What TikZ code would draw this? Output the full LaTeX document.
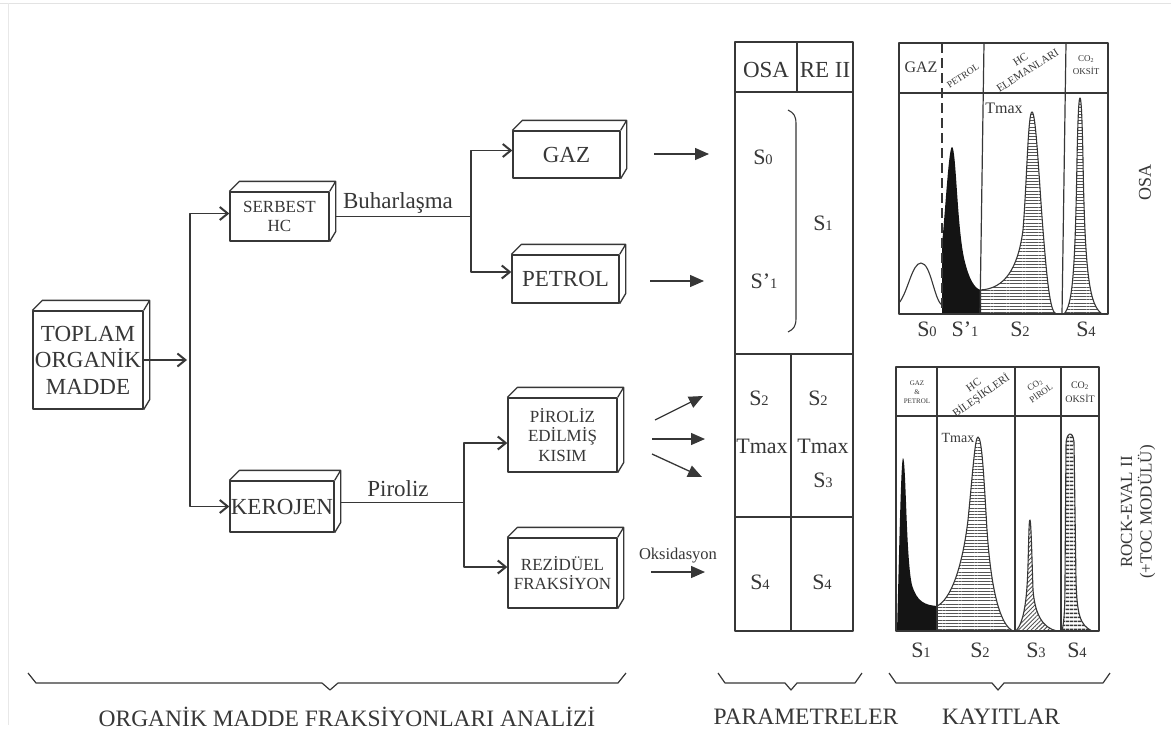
\documentclass[tikz,border=0pt]{standalone}
\usepackage{fontspec}
\setmainfont{Liberation Serif}
\usepackage{graphicx}
\usetikzlibrary{arrows.meta,patterns.meta}
\definecolor{ink}{RGB}{55,55,55}
\definecolor{blk}{RGB}{20,20,20}
\definecolor{hatchc}{RGB}{85,85,85}
\newcommand\fsz[2]{\fontsize{#1}{#2}\selectfont}
\newcommand\Sx[1]{S\scalebox{0.66}{#1}}
\newcommand\cubeface[1]{\draw[boxline] (#1.north west) -- ++(10pt,10pt) -- ([shift={(6pt,10pt)}]#1.north east) -- (#1.north east) ([shift={(6pt,10pt)}]#1.north east) -- ([shift={(6pt,10pt)}]#1.south east) -- (#1.south east);}
\begin{document}
\begin{tikzpicture}[x=1pt,y=-1pt,line join=round,
  every node/.style={text=ink,inner sep=0pt},
  boxline/.style={draw=ink,line width=1.3pt},
  box3d/.style={boxline,align=center},
  openarrow/.style={draw=ink,line width=1.3pt,-{Straight Barb[length=8pt,width=13pt,line width=2pt]}},
  fillarrow/.style={draw=ink,line width=1.3pt,-{Triangle[length=14pt,width=12pt]}},
  frame/.style={draw=ink,line width=1.2pt},
  curve/.style={draw=ink,line width=1.1pt},
  lbl/.style={font=\fsz{22}{24}},
  hatchh/.style={pattern={Lines[distance=3.2pt,line width=1pt]},pattern color=hatchc},
]
\useasboundingbox (0,0) rectangle (1171,732);
\fill[white] (0,0) rectangle (1171,732);
\draw[gray!22,line width=1pt] (0,3) -- (1171,3);
\draw[gray!18,line width=1pt] (8,3) -- (8,725);

% ---------- boxes ----------
\node[box3d,minimum width=110pt,minimum height=98pt,font=\fsz{23}{26.5}] (toplam) at (88,360) {TOPLAM\\ORGANİK\\MADDE};
\cubeface{toplam}
\node[box3d,minimum width=99pt,minimum height=49pt,font=\fsz{17}{19}] (serbest) at (279.5,216.5) {SERBEST\\HC};
\cubeface{serbest}
\node[box3d,minimum width=104pt,minimum height=51pt,font=\fsz{23}{25}] (kerojen) at (282,506.5) {KEROJEN};
\cubeface{kerojen}
\node[box3d,minimum width=107pt,minimum height=47pt,font=\fsz{23}{25}] (gaz) at (566.5,154.5) {GAZ};
\cubeface{gaz}
\node[box3d,minimum width=107pt,minimum height=48pt,font=\fsz{23}{25}] (petrol) at (565.5,279) {PETROL};
\cubeface{petrol}
\node[box3d,minimum width=109pt,minimum height=74pt,font=\fsz{17}{19.5}] (piroliz) at (562.5,435) {PİROLİZ\\EDİLMİŞ\\KISIM};
\cubeface{piroliz}
\node[box3d,minimum width=109pt,minimum height=70pt,font=\fsz{17}{18.5}] (rezid) at (562.5,573) {REZİDÜEL\\FRAKSİYON};
\cubeface{rezid}

% ---------- connectors ----------
\coordinate (j1) at (190,360);
\draw[openarrow] (toplam.east) -- ([xshift=-3pt]j1);
\draw[openarrow] (j1) |- ([yshift=3pt]serbest.west);
\draw[openarrow] (j1) |- (kerojen.west);
\coordinate (j2) at (471,216.5);
\draw[boxline] ([xshift=6pt]serbest.east) -- (j2);
\draw[openarrow] (j2) |- ([yshift=4pt]gaz.west);
\draw[openarrow] (j2) |- ([yshift=7pt]petrol.west);
\node[font=\fsz{23}{25}] (buhar) at (398,203) {Buharlaşma};
\coordinate (j3) at (464,502.5);
\draw[boxline] ([shift={(6pt,4pt)}]kerojen.east) -- (j3);
\draw[openarrow] (j3) |- ([yshift=-8pt]piroliz.west);
\draw[openarrow] (j3) |- ([yshift=6pt]rezid.west);
\node[font=\fsz{23}{25}] (pirlbl) at (398,489) {Piroliz};

\coordinate (g1) at (654,154); \coordinate (g2) at (709,154);
\draw[fillarrow] (g1) -- (g2);
\coordinate (p1) at (650,281); \coordinate (p2) at (704,281);
\draw[fillarrow] (p1) -- (p2);
\coordinate (a1) at (655,420); \coordinate (a2) at (703,396);
\draw[fillarrow] (a1) -- (a2);
\coordinate (b1) at (652,439); \coordinate (b2) at (705,439);
\draw[fillarrow] (b1) -- (b2);
\coordinate (c1) at (652,454); \coordinate (c2) at (702,477);
\draw[fillarrow] (c1) -- (c2);
\coordinate (o1) at (651,572); \coordinate (o2) at (705,572);
\draw[fillarrow] (o1) -- (o2);
\node[font=\fsz{16.5}{18}] (oksid) at (678,556) {Oksidasyon};

% ---------- parameter table ----------
\draw[frame] (735,42) rectangle (853,631);
\draw[frame] (735,92) -- (853,92);
\draw[frame] (797,42) -- (797,92);
\draw[frame] (735,354) -- (853,354);
\draw[frame] (791,354) -- (791,631);
\draw[frame] (735,517) -- (853,517);
\node[font=\fsz{23}{25}] (tosa) at (766,70) {OSA};
\node[font=\fsz{23}{25}] (tre) at (825,70) {RE II};
\node[lbl] (ts0) at (763,157) {\Sx{0}};
\node[lbl] (ts1p) at (764,281) {S’\scalebox{0.66}{1}};
\node[lbl] (ts1) at (823,223) {\Sx{1}};
\draw[curve] (788,110) .. controls (794,113) and (796,116) .. (796,124) -- (796,318) .. controls (796,326) and (794,329) .. (788,332);
\node[lbl] (ts2a) at (759,398) {\Sx{2}};
\node[lbl] (ttma) at (762,446) {Tmax};
\node[lbl] (ts2b) at (818,398) {\Sx{2}};
\node[lbl] (ttmb) at (823,446) {Tmax};
\node[lbl] (ts3) at (823,480) {\Sx{3}};
\node[lbl] (ts4a) at (760,582) {\Sx{4}};
\node[lbl] (ts4b) at (822,582) {\Sx{4}};

% ---------- OSA record ----------
\path[hatchh] (980,290) .. controls (1005,289) and (1018,268) .. (1023,230) .. controls (1027,180) and (1028,112) .. (1032,112) .. controls (1036,112) and (1039,180) .. (1043,230) .. controls (1047,280) and (1050,312) .. (1056,314) -- (980,314) -- cycle;
\draw[curve] (980,290) .. controls (1005,289) and (1018,268) .. (1023,230) .. controls (1027,180) and (1028,112) .. (1032,112) .. controls (1036,112) and (1039,180) .. (1043,230) .. controls (1047,280) and (1050,312) .. (1056,314);
\fill[blk] (942,314) -- (942,245) .. controls (946,200) and (949,147) .. (952,147) .. controls (956,147) and (957,225) .. (964,258) .. controls (969,280) and (975,289) .. (981,290) -- (981,314) -- cycle;
\draw[curve] (899,303) .. controls (908,292) and (912,263) .. (921,263) .. controls (931,263) and (934,300) .. (942,305);
\path[hatchh] (1064,314) .. controls (1072,305) and (1075,280) .. (1077,160) .. controls (1078,110) and (1079,98) .. (1080,98) .. controls (1081,98) and (1082,110) .. (1083,160) .. controls (1085,280) and (1090,305) .. (1102,314) -- cycle;
\draw[curve] (1064,314) .. controls (1072,305) and (1075,280) .. (1077,160) .. controls (1078,110) and (1079,98) .. (1080,98) .. controls (1081,98) and (1082,110) .. (1083,160) .. controls (1085,280) and (1090,305) .. (1102,314);
\draw[frame] (899,43) rectangle (1108,314);
\draw[frame] (899,93) -- (1108,93);
\draw[frame,dash pattern=on 10pt off 5pt] (942,43) -- (942,314);
\draw[frame] (984,43) -- (980,314);
\draw[frame] (1066,43) -- (1062,314);
\node[font=\fsz{16}{18}] (hgaz) at (921,67) {GAZ};
\node[rotate=33,font=\fsz{9.5}{11}] (hpet) at (963,76) {PETROL};
\node[rotate=33,align=center,font=\fsz{11}{13}] (hhc) at (1024,65) {HC\\ELEMANLARI};
\node[align=center,font=\fsz{9}{13}] (hco) at (1086,65) {CO\textsubscript{2}\\OKSİT};
\node[font=\fsz{16}{18}] (tmax1) at (1004,108) {Tmax};
\node[lbl] (l0) at (927,329) {\Sx{0}};
\node[lbl] (l1) at (965,329) {S’\scalebox{0.66}{1}};
\node[lbl] (l2) at (1020,329) {\Sx{2}};
\node[lbl] (l4) at (1086,329) {\Sx{4}};
\node[rotate=90,font=\fsz{18}{20}] (osa) at (1145,182) {OSA};

% ---------- ROCK-EVAL record ----------
\fill[blk] (897,631) .. controls (899,560) and (901,458) .. (903,458) .. controls (906,458) and (906,560) .. (912,585) .. controls (917,602) and (925,605) .. (937,606) -- (937,631) -- cycle;
\path[hatchh] (937,606) .. controls (950,600) and (962,570) .. (968,520) .. controls (973,470) and (975,437) .. (978,437) .. controls (982,437) and (984,480) .. (987,530) .. controls (991,590) and (1000,625) .. (1013,631) -- (937,631) -- cycle;
\draw[curve] (937,606) .. controls (950,600) and (962,570) .. (968,520) .. controls (973,470) and (975,437) .. (978,437) .. controls (982,437) and (984,480) .. (987,530) .. controls (991,590) and (1000,625) .. (1013,631);
\path[pattern={Lines[angle=45,distance=3pt,line width=0.9pt]},pattern color=hatchc] (1016,631) .. controls (1024,622) and (1027,600) .. (1028,565) .. controls (1029,530) and (1029,520) .. (1030,520) .. controls (1031,520) and (1032,560) .. (1033,590) .. controls (1035,615) and (1043,628) .. (1057,631) -- cycle;
\draw[curve] (1016,631) .. controls (1024,622) and (1027,600) .. (1028,565) .. controls (1029,530) and (1029,520) .. (1030,520) .. controls (1031,520) and (1032,560) .. (1033,590) .. controls (1035,615) and (1043,628) .. (1057,631);
\path[pattern={Lines[distance=4pt,line width=2pt]},pattern color=ink] (1062,631) .. controls (1064,622) and (1065,610) .. (1065,580) -- (1066,445) .. controls (1066,432) and (1073,430) .. (1074,442) -- (1076,580) .. controls (1077,615) and (1080,625) .. (1092,631) -- cycle;
\draw[curve] (1062,631) .. controls (1064,622) and (1065,610) .. (1065,580) -- (1066,445) .. controls (1066,432) and (1073,430) .. (1074,442) -- (1076,580) .. controls (1077,615) and (1080,625) .. (1092,631);
\draw[frame] (896,367) rectangle (1099,631);
\draw[frame] (896,416) -- (1099,416);
\draw[frame] (937,367) -- (937,631);
\draw[frame] (1015,367) -- (1015,631);
\draw[frame] (1061,367) -- (1061,631);
\node[align=center,font=\fsz{7}{9}] (hgp) at (917,392) {GAZ\\\&\\PETROL};
\node[rotate=35,align=center,font=\fsz{11}{13}] (hhb) at (978,391) {HC\\BİLEŞİKLERİ};
\node[rotate=35,align=center,font=\fsz{9}{11}] (hcp) at (1038,389) {CO\textsubscript{2}\\PİROL};
\node[align=center,font=\fsz{10}{14}] (hco2) at (1080,392) {CO\textsubscript{2}\\OKSİT};
\node[font=\fsz{14}{16}] (tmax2) at (958,438) {Tmax};
\node[lbl] (m1) at (921,650) {\Sx{1}};
\node[lbl] (m2) at (980,650) {\Sx{2}};
\node[lbl] (m3) at (1036,650) {\Sx{3}};
\node[lbl] (m4) at (1077,650) {\Sx{4}};
\node[rotate=90,align=center,font=\fsz{17}{19.5}] (rock) at (1138,512) {ROCK-EVAL II\\(+TOC MODÜLÜ)};

% ---------- braces ----------
\draw[ink,line width=1.2pt] (28,673) -- (36,683) -- (322,683) -- (330,690) -- (338,683) -- (618,683) -- (626,673);
\draw[ink,line width=1.2pt] (718,673) -- (725,683) -- (785,683) -- (791,690) -- (797,683) -- (855,683) -- (862,673);
\draw[ink,line width=1.2pt] (889,673) -- (896,683) -- (992,683) -- (998,690) -- (1004,683) -- (1103,683) -- (1110,673);
\node[font=\fsz{23.5}{25}] (t1) at (347,717) {ORGANİK MADDE FRAKSİYONLARI ANALİZİ};
\node[font=\fsz{23.5}{25}] (t2) at (806,717) {PARAMETRELER};
\node[font=\fsz{23.5}{25}] (t3) at (1001,717) {KAYITLAR};
\end{tikzpicture}
\end{document}
